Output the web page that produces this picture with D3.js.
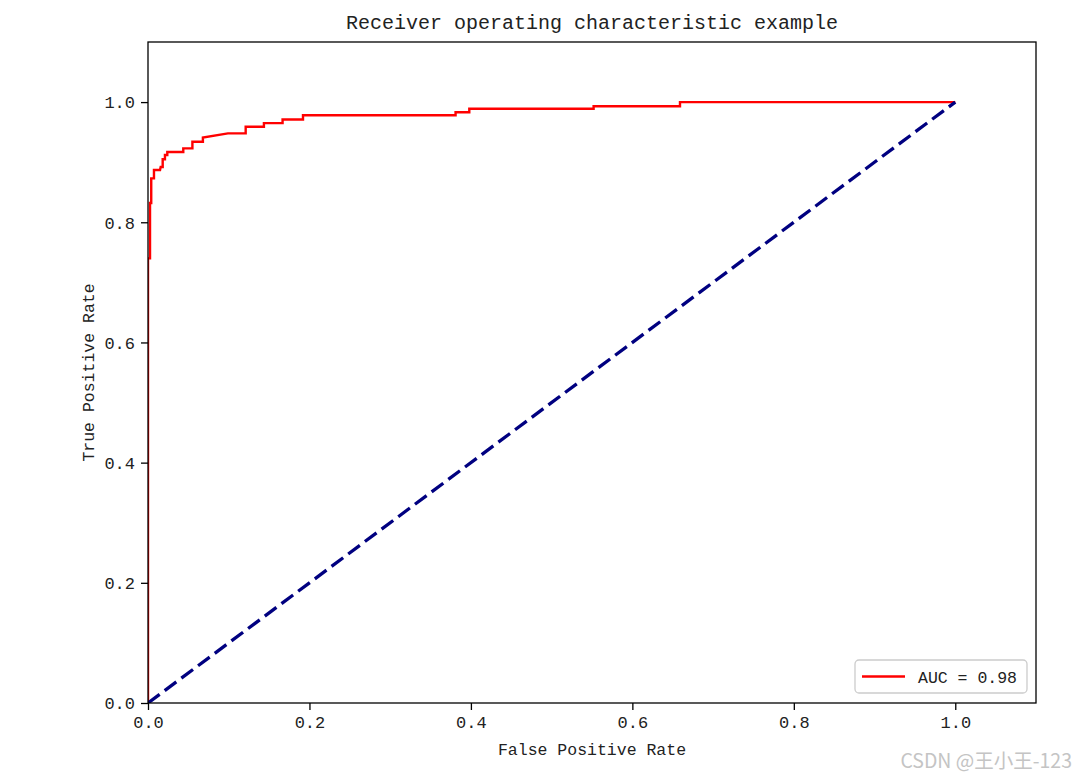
<!DOCTYPE html>
<html>
<head>
<meta charset="utf-8">
<script src="https://cdn.jsdelivr.net/npm/d3@7/dist/d3.min.js"></script>
<style>
  html, body { margin: 0; padding: 0; background: #fff; }
  svg { display: block; }
</style>
</head>
<body>
<svg id="chart" width="1075" height="777"></svg>
<script>
// ROC curve vertices
const fpr = [0, 0, 0.0025, 0.0025, 0.004, 0.004, 0.0074, 0.0074, 0.0149, 0.0157, 0.0182, 0.0182,
  0.021, 0.021, 0.0239, 0.0239, 0.0437, 0.0437, 0.055, 0.055, 0.068, 0.068, 0.099, 0.121, 0.121,
  0.1436, 0.1436, 0.1667, 0.1667, 0.192, 0.192, 0.381, 0.381, 0.398, 0.398, 0.552, 0.552, 0.659, 0.659, 1.0];
const tpr = [0, 0.74, 0.74, 0.832, 0.832, 0.873, 0.873, 0.887, 0.887, 0.892, 0.892, 0.905,
  0.905, 0.912, 0.912, 0.917, 0.917, 0.923, 0.923, 0.934, 0.934, 0.941, 0.948, 0.948, 0.959,
  0.959, 0.965, 0.965, 0.971, 0.971, 0.978, 0.978, 0.983, 0.983, 0.989, 0.989, 0.993, 0.993, 1.0, 1.0];
const chanceX = [0, 1];
const chanceY = [0, 1];
const xTicks = [0, 0.2, 0.4, 0.6, 0.8, 1.0];
const yTicks = [0, 0.2, 0.4, 0.6, 0.8, 1.0];
const aucLabel = "AUC = 0.98";
const titleText = "Receiver operating characteristic example";
const xLabel = "False Positive Rate";
const yLabel = "True Positive Rate";
const watermark = "CSDN @王小王-123";

const svg = d3.select("#chart");
const pL = 148, pR = 1036, pT = 42, pB = 703;
const font = "'Liberation Mono', 'DejaVu Sans Mono', monospace";

const x = d3.scaleLinear().domain([0, 1.1]).range([pL, pR]);
const y = d3.scaleLinear().domain([0, 1.1]).range([pB, pT]);

svg.append("defs").append("clipPath").attr("id", "clip")
  .append("rect").attr("x", pL).attr("y", pT).attr("width", pR - pL).attr("height", pB - pT);

const g = svg.append("g");
const line = d3.line().x(d => x(d[0])).y(d => y(d[1]));

g.append("path")
  .datum(fpr.map((f, i) => [f, tpr[i]]))
  .attr("d", line)
  .attr("fill", "none")
  .attr("stroke", "#ff0000")
  .attr("stroke-width", 2.4)
  .attr("stroke-linejoin", "miter")
  .attr("clip-path", "url(#clip)");

g.append("path")
  .datum(chanceX.map((f, i) => [f, chanceY[i]]))
  .attr("d", line)
  .attr("fill", "none")
  .attr("stroke", "#000080")
  .attr("stroke-width", 3.3)
  .attr("stroke-dasharray", "14.5,6.3")
  .attr("clip-path", "url(#clip)");

// axes
const fmt = d3.format(".1f");
const xAxis = svg.append("g").attr("transform", `translate(0,${pB})`)
  .call(d3.axisBottom(x).tickValues(xTicks).tickFormat(fmt).tickSize(7).tickPadding(6));
const yAxis = svg.append("g").attr("transform", `translate(${pL},0)`)
  .call(d3.axisLeft(y).tickValues(yTicks).tickFormat(fmt).tickSize(7).tickPadding(6));
[xAxis, yAxis].forEach(a => {
  a.select(".domain").remove();
  a.selectAll(".tick line").attr("stroke", "#000").attr("stroke-width", 1.3);
  a.selectAll(".tick text").attr("font-family", font).attr("font-size", 17).attr("fill", "#222");
});
yAxis.selectAll(".tick text").attr("dy", "0.34em");

// spines
svg.append("rect").attr("x", pL).attr("y", pT)
  .attr("width", pR - pL).attr("height", pB - pT)
  .attr("fill", "none").attr("stroke", "#000").attr("stroke-width", 1.3);

// title & labels
svg.append("text").attr("x", (pL + pR) / 2).attr("y", 29)
  .attr("text-anchor", "middle").attr("font-family", font).attr("font-size", 20)
  .attr("fill", "#222").text(titleText);
svg.append("text").attr("x", (pL + pR) / 2).attr("y", 755)
  .attr("text-anchor", "middle").attr("font-family", font).attr("font-size", 16.5)
  .attr("fill", "#222").text(xLabel);
svg.append("text").attr("transform", `translate(94,${(pT + pB) / 2}) rotate(-90)`)
  .attr("text-anchor", "middle").attr("font-family", font).attr("font-size", 16.5)
  .attr("fill", "#222").text(yLabel);

// legend
const lg = svg.append("g");
lg.append("rect").attr("x", 855).attr("y", 660).attr("width", 172).attr("height", 33)
  .attr("rx", 4).attr("fill", "#fff").attr("fill-opacity", 0.8)
  .attr("stroke", "#cccccc").attr("stroke-width", 1.3);
lg.append("line").attr("x1", 862).attr("x2", 905).attr("y1", 676.5).attr("y2", 676.5)
  .attr("stroke", "#ff0000").attr("stroke-width", 2.4);
lg.append("text").attr("x", 918).attr("y", 682.5).attr("font-family", font).attr("font-size", 16.5)
  .attr("fill", "#222").text(aucLabel);

// watermark
svg.append("text").attr("x", 1072).attr("y", 768).attr("text-anchor", "end")
  .attr("font-family", "'Noto Sans CJK SC', 'Noto Sans', sans-serif").attr("font-size", 19.5)
  .attr("fill", "#c4c4c4").text(watermark);
</script>
</body>
</html>
